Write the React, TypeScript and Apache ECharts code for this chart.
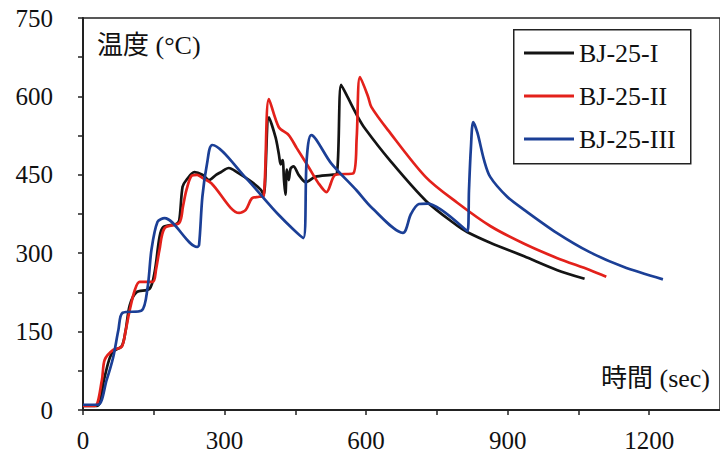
import { useEffect, useRef } from 'react';
import * as echarts from 'echarts';

// ---- data ----
const seriesNames = ['BJ-25-I', 'BJ-25-II', 'BJ-25-III'];

const blackTime = [0, 30, 45, 55, 64, 82, 90, 99, 113, 141, 152, 162, 170, 198, 204, 211, 219, 236, 253, 267, 282, 292, 309, 326, 358, 377, 383, 394, 408, 415, 419, 423, 426, 429, 432, 436, 440, 446, 457, 472, 492, 526, 538, 547, 560, 583, 598, 650, 727, 794, 815, 863, 935, 1004, 1063];
const blackTemp = [8, 8, 60, 95, 112, 122, 150, 200, 225, 232, 265, 330, 350, 356, 363, 427, 440, 455, 450, 440, 450, 455, 463, 455, 436, 421, 411, 560, 522, 490, 470, 478, 440, 412, 460, 440, 462, 466, 450, 436, 446, 450, 452, 622, 600, 560, 538, 478, 400, 352, 340, 320, 294, 268, 251];

const redTime = [0, 25, 40, 46, 64, 82, 90, 99, 110, 120, 148, 155, 162, 173, 204, 212, 219, 230, 242, 253, 272, 331, 345, 358, 373, 383, 394, 415, 436, 453, 478, 499, 516, 535, 573, 580, 587, 604, 611, 646, 727, 794, 863, 935, 1004, 1074, 1109];
const redTemp = [8, 8, 57, 96, 115, 121, 150, 191, 230, 245, 245, 270, 306, 348, 358, 390, 420, 448, 450, 444, 434, 377, 383, 405, 408, 410, 595, 541, 526, 501, 465, 434, 417, 450, 453, 520, 637, 600, 580, 536, 445, 396, 352, 318, 291, 268, 255];

const blueTime = [0, 32, 50, 64, 75, 84, 124, 137, 145, 158, 173, 242, 246, 253, 263, 274, 345, 415, 467, 474, 484, 526, 580, 611, 678, 695, 712, 730, 815, 818, 822, 827, 836, 850, 863, 899, 935, 1004, 1074, 1145, 1229];
const blueTemp = [10, 10, 57, 101, 153, 186, 190, 235, 306, 360, 367, 312, 316, 408, 472, 507, 444, 373, 329, 478, 526, 472, 420, 388, 339, 375, 394, 395, 342, 420, 500, 551, 530, 478, 446, 408, 383, 339, 302, 274, 250];

const xLabelValues = [0, 300, 600, 900, 1200];
const yLabelValues = [0, 150, 300, 450, 600, 750];

const yTitle = '温度 (°C)';
const xTitle = '時間 (sec)';

const colors = ['#141414', '#e3211b', '#1b3f96'];

const zip = (a: number[], b: number[]) => a.map((v, i) => [v, b[i]]);

const SERIF = "'Liberation Serif', 'Times New Roman', 'Noto Sans CJK JP', serif";
const MIXED = "'Liberation Serif', 'Noto Sans CJK JP', serif";

export default function App() {
  const ref = useRef<HTMLDivElement>(null);

  useEffect(() => {
    if (!ref.current) return;
    const chart = echarts.init(ref.current, undefined, { renderer: 'svg' });
    const datasets = [zip(blackTime, blackTemp), zip(redTime, redTemp), zip(blueTime, blueTemp)];

    chart.setOption({
      animation: false,
      backgroundColor: '#ffffff',
      grid: {
        left: 83,
        right: -5,
        top: 18,
        bottom: 51,
        show: true,
        borderColor: '#222',
        borderWidth: 1.5,
        containLabel: false,
      },
      legend: {
        orient: 'vertical',
        left: 524,
        top: 40,
        padding: 0,
        itemGap: 17,
        itemWidth: 50,
        itemHeight: 3,
        icon: 'rect',
        data: seriesNames,
        z: 20,
        textStyle: { fontFamily: SERIF, fontSize: 26, color: '#111' },
      },
      xAxis: {
        type: 'value',
        min: 0,
        max: 1350,
        interval: 150,
        splitLine: { show: false },
        axisLine: { show: true, onZero: false, lineStyle: { color: '#222', width: 2 } },
        axisTick: { show: true, inside: false, length: 5, lineStyle: { color: '#222', width: 1.5 } },
        axisLabel: {
          margin: 18,
          fontFamily: SERIF,
          fontSize: 25,
          color: '#111',
          showMaxLabel: false,
          formatter: (v: number) => (xLabelValues.includes(v) ? String(v) : ''),
        },
      },
      yAxis: {
        type: 'value',
        min: 0,
        max: 750,
        interval: 75,
        splitLine: { show: false },
        axisLine: { show: true, onZero: false, lineStyle: { color: '#222', width: 2 } },
        axisTick: { show: true, inside: false, length: 5, lineStyle: { color: '#222', width: 1.5 } },
        axisLabel: {
          margin: 30,
          fontFamily: SERIF,
          fontSize: 25,
          color: '#111',
          formatter: (v: number) => (yLabelValues.includes(v) ? String(v) : ''),
        },
      },
      graphic: [
        {
          type: 'rect',
          left: 513,
          top: 29,
          z: 10,
          shape: { width: 177, height: 134 },
          style: { fill: '#fff', stroke: '#222', lineWidth: 1.5 },
        },
        {
          type: 'text',
          left: 97,
          top: 32,
          style: { text: yTitle, font: `26px ${MIXED}`, fill: '#111' },
        },
        {
          type: 'text',
          right: 10,
          top: 365,
          style: { text: xTitle, font: `26px ${MIXED}`, fill: '#111' },
        },
      ],
      series: seriesNames.map((name, i) => ({
        name,
        type: 'line',
        data: datasets[i],
        showSymbol: false,
        symbol: 'none',
        smooth: 0.3,
        clip: true,
        lineStyle: { color: colors[i], width: 2.7 },
        itemStyle: { color: colors[i] },
        z: 2 + i,
      })),
    });

    return () => chart.dispose();
  }, []);

  return (
    <div
      ref={ref}
      style={{ position: 'fixed', left: 0, top: 0, width: 720, height: 461, background: '#fff' }}
    />
  );
}
